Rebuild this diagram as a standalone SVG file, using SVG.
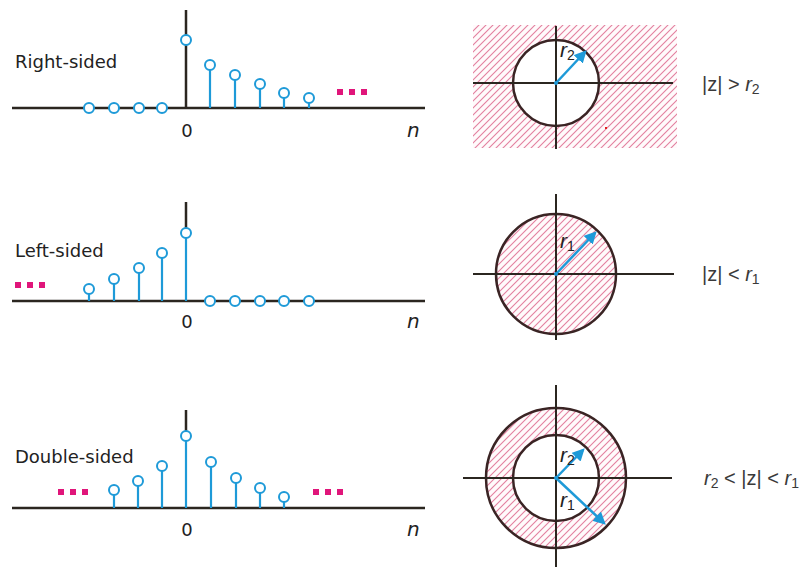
<svg xmlns="http://www.w3.org/2000/svg" width="805" height="568" viewBox="0 0 805 568">
<defs>
<pattern id="hatch" patternUnits="userSpaceOnUse" width="7" height="7">
<rect width="7" height="7" fill="#fffafb"/>
<path d="M-1,1 l2,-2 M0,7 l7,-7 M6,8 l2,-2" stroke="#e3809f" stroke-width="1.1"/>
</pattern>
<marker id="ah" viewBox="0 0 10 10" refX="8" refY="5" markerWidth="5" markerHeight="5" orient="auto" markerUnits="strokeWidth">
<path d="M0,0 L10,5 L0,10 z" fill="#1e9ad8"/>
</marker>
<style>
.axis{stroke:#2b2620;stroke-width:2.5;fill:none}
.stem{stroke:#1e9ad8;stroke-width:2.2;fill:none}
.dot{fill:#fff;stroke:#1e9ad8;stroke-width:2}
.ell{fill:#e0157a}
.lbl{font-family:"DejaVu Sans",Verdana,sans-serif;font-size:18px;fill:#222}
.n{font-family:"DejaVu Sans",sans-serif;font-size:20px;font-style:italic;fill:#222}
.zl{font-family:"Liberation Sans",Arial,sans-serif;font-size:20px;fill:#3a3a3a}
.rl{font-family:"Liberation Sans",Arial,sans-serif;font-size:21px;fill:#222}
.ax2{stroke:#2b2620;stroke-width:2;fill:none}
.circ{stroke:#3a2424;stroke-width:2.5}
.arr{stroke:#1e9ad8;stroke-width:2.5;fill:none;marker-end:url(#ah)}
</style>
</defs>

<!-- Panel 1: Right-sided -->
<g id="right-sided">
<text class="lbl" x="15" y="68">Right-sided</text>
<line class="axis" x1="12" y1="108" x2="425" y2="108"/>
<line class="axis" x1="186" y1="10" x2="186" y2="108"/>
<line class="stem" x1="210" y1="108" x2="210" y2="65"/>
<line class="stem" x1="235" y1="108" x2="235" y2="75"/>
<line class="stem" x1="260" y1="108" x2="260" y2="84"/>
<line class="stem" x1="284" y1="108" x2="284" y2="93"/>
<line class="stem" x1="309" y1="108" x2="309" y2="98"/>
<circle class="dot" cx="186" cy="40" r="5"/>
<circle class="dot" cx="210" cy="65" r="5"/>
<circle class="dot" cx="235" cy="75" r="5"/>
<circle class="dot" cx="260" cy="84" r="5"/>
<circle class="dot" cx="284" cy="93" r="5"/>
<circle class="dot" cx="309" cy="98" r="5"/>
<circle class="dot" cx="89" cy="108" r="5"/>
<circle class="dot" cx="114" cy="108" r="5"/>
<circle class="dot" cx="139" cy="108" r="5"/>
<circle class="dot" cx="162" cy="108" r="5"/>
<rect class="ell" x="337" y="89" width="6" height="6"/>
<rect class="ell" x="349" y="89" width="6" height="6"/>
<rect class="ell" x="361" y="89" width="6" height="6"/>
<text class="lbl" x="187" y="137" text-anchor="middle">0</text>
<text class="n" x="407" y="137">n</text>
</g>

<!-- Panel 2: Left-sided -->
<g id="left-sided">
<text class="lbl" x="15" y="257">Left-sided</text>
<line class="axis" x1="12" y1="301" x2="425" y2="301"/>
<line class="axis" x1="186" y1="202" x2="186" y2="230"/>
<line class="stem" x1="186" y1="301" x2="186" y2="233"/>
<line class="stem" x1="162" y1="301" x2="162" y2="253"/>
<line class="stem" x1="139" y1="301" x2="139" y2="268"/>
<line class="stem" x1="114" y1="301" x2="114" y2="279"/>
<line class="stem" x1="89" y1="301" x2="89" y2="289"/>
<circle class="dot" cx="186" cy="233" r="5"/>
<circle class="dot" cx="162" cy="253" r="5"/>
<circle class="dot" cx="139" cy="268" r="5"/>
<circle class="dot" cx="114" cy="279" r="5"/>
<circle class="dot" cx="89" cy="289" r="5"/>
<circle class="dot" cx="210" cy="301" r="5"/>
<circle class="dot" cx="235" cy="301" r="5"/>
<circle class="dot" cx="260" cy="301" r="5"/>
<circle class="dot" cx="284" cy="301" r="5"/>
<circle class="dot" cx="309" cy="301" r="5"/>
<rect class="ell" x="15" y="282" width="6" height="6"/>
<rect class="ell" x="27" y="282" width="6" height="6"/>
<rect class="ell" x="39" y="282" width="6" height="6"/>
<text class="lbl" x="187" y="328" text-anchor="middle">0</text>
<text class="n" x="407" y="328">n</text>
</g>

<!-- Panel 3: Double-sided -->
<g id="double-sided">
<text class="lbl" x="15" y="463">Double-sided</text>
<line class="axis" x1="12" y1="508" x2="425" y2="508"/>
<line class="axis" x1="186" y1="410" x2="186" y2="433"/>
<line class="stem" x1="186" y1="508" x2="186" y2="436"/>
<line class="stem" x1="162" y1="508" x2="162" y2="466"/>
<line class="stem" x1="138" y1="508" x2="138" y2="481"/>
<line class="stem" x1="114" y1="508" x2="114" y2="490"/>
<line class="stem" x1="211" y1="508" x2="211" y2="462"/>
<line class="stem" x1="236" y1="508" x2="236" y2="478"/>
<line class="stem" x1="260" y1="508" x2="260" y2="488"/>
<line class="stem" x1="284" y1="508" x2="284" y2="497"/>
<circle class="dot" cx="186" cy="436" r="5"/>
<circle class="dot" cx="162" cy="466" r="5"/>
<circle class="dot" cx="138" cy="481" r="5"/>
<circle class="dot" cx="114" cy="490" r="5"/>
<circle class="dot" cx="211" cy="462" r="5"/>
<circle class="dot" cx="236" cy="478" r="5"/>
<circle class="dot" cx="260" cy="488" r="5"/>
<circle class="dot" cx="284" cy="497" r="5"/>
<rect class="ell" x="58" y="489" width="6" height="6"/>
<rect class="ell" x="70" y="489" width="6" height="6"/>
<rect class="ell" x="82" y="489" width="6" height="6"/>
<rect class="ell" x="313" y="489" width="6" height="6"/>
<rect class="ell" x="325" y="489" width="6" height="6"/>
<rect class="ell" x="337" y="489" width="6" height="6"/>
<text class="lbl" x="187" y="536" text-anchor="middle">0</text>
<text class="n" x="407" y="536">n</text>
</g>

<!-- ROC 1: |z| > r2 -->
<g id="roc-outside">
<rect x="473" y="25" width="204" height="123" fill="url(#hatch)"/>
<circle class="circ" cx="556" cy="83" r="43" fill="#fff"/>
<line class="ax2" x1="473" y1="83" x2="673" y2="83"/>
<line class="ax2" x1="556" y1="26" x2="556" y2="149"/>
<line class="arr" x1="556" y1="83" x2="585" y2="52"/>
<circle cx="556" cy="83" r="2" fill="#1e9ad8"/>
<text class="rl" x="560" y="57"><tspan font-style="italic">r</tspan><tspan font-size="14" dy="3">2</tspan></text>
<rect x="605" y="127" width="2" height="2" fill="#e02020"/>
<text class="zl" x="702" y="91">|z| &gt; <tspan font-style="italic">r</tspan><tspan font-size="14" dy="3">2</tspan></text>
</g>

<!-- ROC 2: |z| < r1 -->
<g id="roc-inside">
<circle class="circ" cx="556" cy="274" r="60" fill="url(#hatch)"/>
<line class="ax2" x1="473" y1="274" x2="674" y2="274"/>
<line class="ax2" x1="556" y1="194" x2="556" y2="340"/>
<line class="arr" x1="556" y1="274" x2="595" y2="233"/>
<circle cx="556" cy="274" r="2" fill="#1e9ad8"/>
<text class="rl" x="560" y="248"><tspan font-style="italic">r</tspan><tspan font-size="14" dy="3">1</tspan></text>
<text class="zl" x="702" y="281">|z| &lt; <tspan font-style="italic">r</tspan><tspan font-size="14" dy="3">1</tspan></text>
</g>

<!-- ROC 3: r2 < |z| < r1 -->
<g id="roc-annulus">
<circle class="circ" cx="556" cy="478" r="70" fill="url(#hatch)"/>
<circle class="circ" cx="556" cy="478" r="43" fill="#fff"/>
<line class="ax2" x1="463" y1="478" x2="672" y2="478"/>
<line class="ax2" x1="556" y1="385" x2="556" y2="567"/>
<line class="arr" x1="556" y1="478" x2="583" y2="450"/>
<line class="arr" x1="556" y1="478" x2="604" y2="523"/>
<circle cx="556" cy="478" r="2" fill="#1e9ad8"/>
<text class="rl" x="560" y="462"><tspan font-style="italic">r</tspan><tspan font-size="14" dy="3">2</tspan></text>
<text class="rl" x="560" y="507"><tspan font-style="italic">r</tspan><tspan font-size="14" dy="3">1</tspan></text>
<text class="zl" x="704" y="485"><tspan font-style="italic">r</tspan><tspan font-size="14" dy="3">2</tspan><tspan dy="-3"> &lt; |z| &lt; </tspan><tspan font-style="italic">r</tspan><tspan font-size="14" dy="3">1</tspan></text>
</g>
</svg>
